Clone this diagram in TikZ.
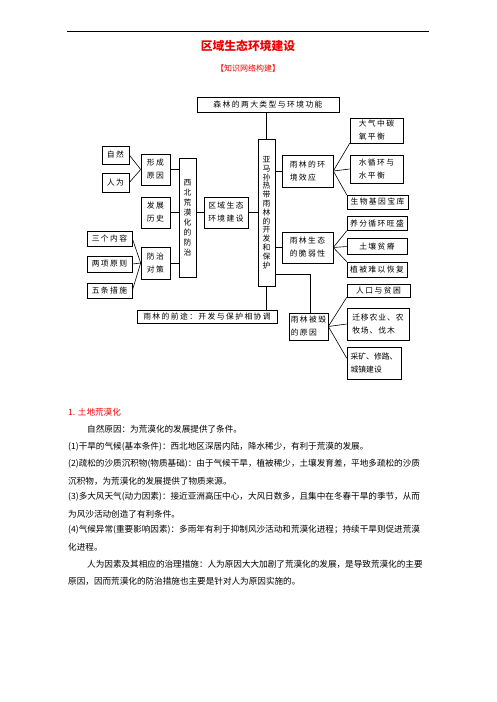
\documentclass[tikz,border=0pt]{standalone}
\usepackage{fontspec}
\setmainfont{Noto Sans CJK SC}
\newfontfamily\dg{Noto Sans CJK SC}[LetterSpace=18]
\newfontfamily\dgs{Noto Sans CJK SC}[LetterSpace=12]
\usetikzlibrary{calc}
\definecolor{tred}{RGB}{240,0,0}
\begin{document}
\begin{tikzpicture}[x=1pt,y=-1pt,
  bx/.style={draw, line width=0.6pt, inner sep=0pt, font=\dg\fontsize{7.8}{13}\selectfont, align=center},
  bxl/.style={bx, align=left},
  vt/.style={bx, font=\dg\fontsize{7.8}{10}\selectfont},
  ln/.style={line width=0.6pt},
  body/.style={anchor=west, inner sep=0pt, font=\fontsize{8.6}{10}\selectfont}
]
\useasboundingbox (0,0) rectangle (496,702);
\fill[white] (0,0) rectangle (496,702);

% header
\coordinate (hl) at (67,31);
\coordinate (hr) at (429,31);
\draw[line width=0.7pt] (hl) -- (hr);
\node[font=\bfseries\fontsize{11.8}{12}\selectfont, text=tred, inner sep=0pt] (title) at (248,46) {区域生态环境建设};
\node[font=\fontsize{8}{9}\selectfont, text=tred, inner sep=0pt] (sub) at (248,68) {【知识网络构建】};

% diagram boxes
\node[bx, minimum width=142pt, minimum height=15pt] (top) at (268,104.5) {森林的两大类型与环境功能};
\node[vt, minimum width=17pt, minimum height=147pt, font=\dg\fontsize{7.8}{8.8}\selectfont] (amazon) at (266.5,212.5) {亚\\马\\孙\\热\\带\\雨\\林\\的\\开\\发\\和\\保\\护};
\node[bx, minimum width=27pt, minimum height=18pt] (ziran) at (115.5,155) {自然};
\node[bx, minimum width=27pt, minimum height=19pt] (renwei) at (115.5,182.5) {人为};
\node[bx, minimum width=29pt, minimum height=31pt] (xingcheng) at (155.5,169.5) {形成\\原因};
\node[vt, minimum width=17pt, minimum height=119pt] (xibei) at (187.5,217.5) {西\\北\\荒\\漠\\化\\的\\防\\治};
\node[bx, minimum width=29pt, minimum height=31pt] (fazhan) at (155.5,212.5) {发展\\历史};
\node[bx, minimum width=44pt, minimum height=31pt] (quyu) at (226,212.5) {区域生态\\环境建设};
\node[bx, minimum width=45pt, minimum height=15pt] (sange) at (109.5,238.5) {三个内容};
\node[bx, minimum width=45pt, minimum height=16pt] (liangxiang) at (109.5,264) {两项原则};
\node[bx, minimum width=45pt, minimum height=15pt] (wutiao) at (109.5,290.5) {五条措施};
\node[bx, minimum width=29pt, minimum height=32pt] (fangzhi) at (155.5,263) {防治\\对策};

\node[bxl, minimum width=51pt, minimum height=32pt] (huanjing) at (307.5,171) {雨林的环\\境效应};
\node[bxl, minimum width=53pt, minimum height=25pt] (daqi) at (376.5,130.5) {大气中碳\\氧平衡};
\node[bxl, minimum width=53pt, minimum height=28pt] (shui) at (376.5,169) {水循环与\\水平衡};
\node[bx, minimum width=61pt, minimum height=14pt] (shengwu) at (377.5,202) {生物基因宝库};
\node[bx, minimum width=51pt, minimum height=31pt] (cuiruo) at (307.5,247.5) {雨林生态\\的脆弱性};
\node[bx, minimum width=60pt, minimum height=14pt] (yangfen) at (377,223.5) {养分循环旺盛};
\node[bx, minimum width=60pt, minimum height=16pt] (turang) at (377,246.5) {土壤贫瘠};
\node[bx, minimum width=60pt, minimum height=15pt] (zhibei) at (377,269.5) {植被难以恢复};
\node[bx, minimum width=63pt, minimum height=13pt] (renkou) at (378.5,290.5) {人口与贫困};
\node[bxl, minimum width=62pt, minimum height=32pt, font=\dgs\fontsize{7.8}{13}\selectfont] (qianyi) at (378,324) {迁移农业、农\\牧场、伐木};
\node[bxl, minimum width=54pt, minimum height=32pt, font=\fontsize{7.8}{13}\selectfont] (caikuang) at (374,363) {采矿、修路、\\城镇建设};
\node[bxl, minimum width=39pt, minimum height=27pt] (huihui) at (308.5,326.5) {雨林被毁\\的原因};
\node[bx, minimum width=140pt, minimum height=13pt] (qiantu) at (207,316.5) {雨林的前途：开发与保护相协调};

% connectors
\draw[ln] (amazon.north |- top.south) -- (amazon.north);
\draw[ln] (ziran.east) -- (xingcheng.west);
\draw[ln] (renwei.east) -- (xingcheng.west);
\draw[ln] (xingcheng.east) -- (xingcheng.east -| xibei.west);
\draw[ln] (fazhan.east) -- (fazhan.east -| xibei.west);
\draw[ln] (fangzhi.east) -- (fangzhi.east -| xibei.west);
\draw[ln] (sange.east) -- (fangzhi.west);
\draw[ln] (liangxiang.east) -- (fangzhi.west);
\draw[ln] (wutiao.east) -- (fangzhi.west);
\draw[ln] (quyu.west -| xibei.east) -- (quyu.west);
\draw[ln] (quyu.east) -- (quyu.east -| amazon.west);
\draw[ln] (huanjing.west -| amazon.east) -- (huanjing.west);
\draw[ln] (cuiruo.west -| amazon.east) -- (cuiruo.west);
\draw[ln] (huanjing.east) -- (daqi.south west);
\draw[ln] (huanjing.east) -- (shui.west);
\draw[ln] (huanjing.east) -- (shengwu.north west);
\draw[ln] (cuiruo.east) -- (yangfen.south west);
\draw[ln] (cuiruo.east) -- (turang.west);
\draw[ln] (cuiruo.east) -- (zhibei.north west);
\coordinate (c1) at (310,274);
\draw[ln] (c1 -| amazon.east) -- (c1) -- (c1 |- huihui.north);
\draw[ln] (amazon.south) -- (amazon.south |- qiantu.north);
\draw[ln] (huihui.east) -- (renkou.south west);
\draw[ln] (huihui.east) -- (qianyi.west);
\draw[ln] (huihui.east) -- ($(caikuang.north west)!0.35!(caikuang.south west)$);

% body text
\node[body, text=tred] (t0) at (68,412) {1. 土地荒漠化};
\node[body] (t1) at (87,429) {自然原因：为荒漠化的发展提供了条件。};
\node[body] (t2) at (68,447) {(1)干旱的气候(基本条件)：西北地区深居内陆，降水稀少，有利于荒漠的发展。};
\node[body] (t3) at (68,464) {(2)疏松的沙质沉积物(物质基础)：由于气候干旱，植被稀少，土壤发育差，平地多疏松的沙质};
\node[body] (t4) at (68,481) {沉积物，为荒漠化的发展提供了物质来源。};
\node[body] (t5) at (68,497) {(3)多大风天气(动力因素)：接近亚洲高压中心，大风日数多，且集中在冬春干旱的季节，从而};
\node[body] (t6) at (68,514) {为风沙活动创造了有利条件。};
\node[body] (t7) at (68,530) {(4)气候异常(重要影响因素)：多雨年有利于抑制风沙活动和荒漠化进程；持续干旱则促进荒漠};
\node[body] (t8) at (68,547) {化进程。};
\node[body] (t9) at (87,564) {人为因素及其相应的治理措施：人为原因大大加剧了荒漠化的发展，是导致荒漠化的主要};
\node[body] (t10) at (68,581) {原因，因而荒漠化的防治措施也主要是针对人为原因实施的。};
\end{tikzpicture}
\end{document}
